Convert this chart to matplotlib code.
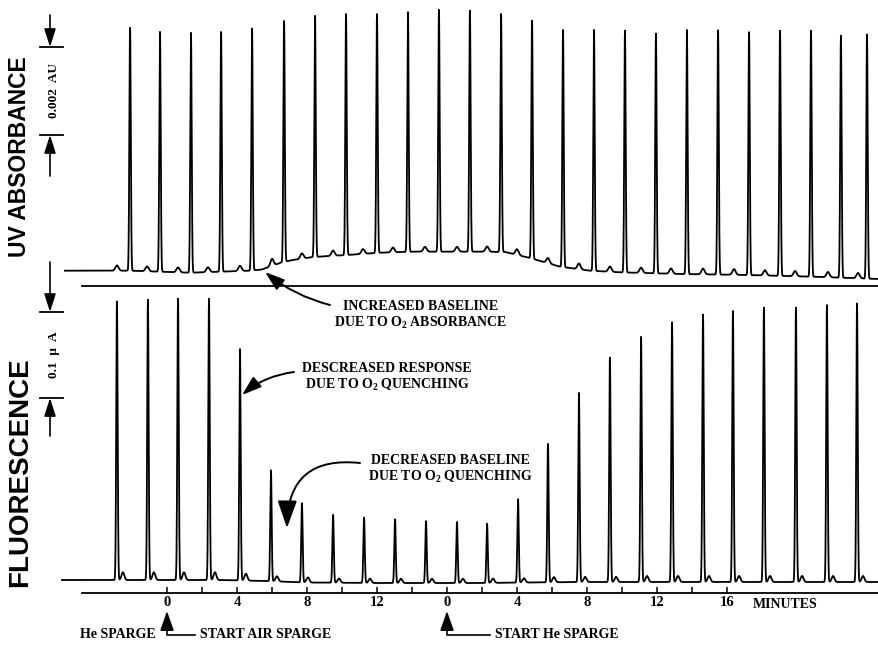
import numpy as np
import matplotlib
matplotlib.use("Agg")
import matplotlib.pyplot as plt
from matplotlib.patches import FancyArrowPatch

plt.rcParams['font.family'] = ['Liberation Serif', 'DejaVu Serif']
plt.rcParams['font.weight'] = 'bold'
plt.rcParams['mathtext.fontset'] = 'custom'
plt.rcParams['mathtext.rm'] = 'Liberation Serif:bold'
plt.rcParams['mathtext.bf'] = 'Liberation Serif:bold'
plt.rcParams['mathtext.it'] = 'Liberation Serif:bold:italic'

# ---------------- DATA (time in minutes, 0 = start of air sparge) ----------------
# UV absorbance trace (AU)
uv_peak_t = [-2.11, -0.40, 1.37, 3.09, 4.86, 6.69, 8.46, 10.23, 12.00, 13.77, 15.54, 17.31,
             19.09, 20.86, 22.63, 24.40, 26.17, 27.94, 29.71, 31.49, 33.26, 35.03, 36.80,
             38.51, 40.00]
uv_peak_h = [0.00552, 0.00545, 0.00545, 0.00545, 0.00550, 0.00548, 0.00548, 0.00548,
             0.00543, 0.00545, 0.00550, 0.00548, 0.00541, 0.00541, 0.00539, 0.00548,
             0.00550, 0.00545, 0.00555, 0.00555, 0.00552, 0.00557, 0.00559, 0.00550, 0.00555]
uv_minor_t = [-2.86, -1.14, 0.63, 2.34, 4.17, 6.00, 7.71, 9.49, 11.20, 12.91, 14.74, 16.57,
              18.29, 20.00, 21.77, 23.54, 25.31, 27.09, 28.80, 30.63, 32.40, 34.17, 35.89,
              37.77, 39.49]
uv_minor_h = [0.00012, 0.00011, 0.00011, 0.00011, 0.00012, 0.00016, 0.00012, 0.00012,
              0.00011, 0.00011, 0.00011, 0.00011, 0.00012, 0.00013, 0.00012, 0.00013,
              0.00012, 0.00012, 0.00012, 0.00013, 0.00013, 0.00012, 0.00012, 0.00012, 0.00012]
uv_base_t = [-5.83, -2.11, 1.31, 4.74, 5.43, 6.46, 7.03, 8.34, 10.29, 12.17, 14.06, 16.00,
             17.89, 19.31, 20.74, 22.46, 24.17, 25.89, 29.31, 33.14, 36.91, 40.69]
uv_base_v = [0.000348, 0.000348, 0.000302, 0.000348, 0.000375, 0.000523, 0.000580, 0.000659,
             0.000705, 0.000757, 0.000780, 0.000780, 0.000780, 0.000773, 0.000636, 0.000439,
             0.000348, 0.000311, 0.000273, 0.000250, 0.000211, 0.000159]

# Fluorescence trace (uA)
fl_peak_t = [-2.86, -1.09, 0.63, 2.40, 4.17, 5.94, 7.71, 9.49, 11.26, 13.03, 14.80, 16.57,
             18.29, 20.06, 21.77, 23.54, 25.31, 27.09, 28.86, 30.63, 32.34, 34.11, 35.94,
             37.71, 39.43]
fl_peak_h = [0.324, 0.326, 0.327, 0.327, 0.269, 0.129, 0.092, 0.079, 0.076, 0.074, 0.072,
             0.071, 0.069, 0.097, 0.161, 0.220, 0.261, 0.285, 0.302, 0.311, 0.315, 0.319,
             0.319, 0.322, 0.324]
fl_minor_t = [-2.52, -0.75, 0.97, 2.74, 4.51, 6.28, 8.05, 9.83, 11.60, 13.37, 15.14, 16.91,
              18.63, 20.40, 22.11, 23.89, 25.66, 27.43, 29.20, 30.97, 32.69, 34.46, 36.29,
              38.06, 39.77]
fl_minor_h = [0.009, 0.009, 0.009, 0.009, 0.008, 0.006, 0.006, 0.005, 0.005, 0.005, 0.005,
              0.005, 0.005, 0.005, 0.006, 0.006, 0.006, 0.007, 0.007, 0.007, 0.007, 0.007,
              0.007, 0.007, 0.007]
fl_base_t = [-6.0, 3.0, 5.5, 8.0, 12.0, 18.0, 20.5, 24.0, 30.0, 40.69]
fl_base_v = [0.0151, 0.0151, 0.0140, 0.0122, 0.0116, 0.0116, 0.0122, 0.0128, 0.0128, 0.0128]

# time axis
major_tick_t = [0, 4, 8, 12, 16, 20, 24, 28, 32]
major_tick_labels = ["0", "4", "8", "12", "0", "4", "8", "12", "16"]
minor_tick_t = [2, 6, 10, 14, 18, 22, 26, 30]

UV_SCALE = 0.002   # AU
FL_SCALE = 0.1     # uA
events = [(0.0, "START AIR SPARGE", 28), (16.0, "START He SPARGE", 43)]

# ---------------- LAYOUT ----------------
W, H = 879, 646
T0_PX, PX_PER_MIN = 167.0, 17.5
XMIN = -T0_PX / PX_PER_MIN
XMAX = (W - T0_PX) / PX_PER_MIN
AXIS_START = (82 - T0_PX) / PX_PER_MIN
UV_PER_PX = UV_SCALE / 88.0
FL_PER_PX = FL_SCALE / 86.0

fig = plt.figure(figsize=(W / 100, H / 100), dpi=100)


def rect(top, bottom):
    return [0, 1 - bottom / H, 1, (bottom - top) / H]


ax_uv = fig.add_axes(rect(0, 300))
ax_fl = fig.add_axes(rect(286, 646))
ov = fig.add_axes([0, 0, 1, 1], zorder=5)
ov.set_xlim(0, W)
ov.set_ylim(H, 0)
ov.axis('off')
ov.patch.set_alpha(0)

ax_uv.set_ylim(-14 * UV_PER_PX, 286 * UV_PER_PX)
ax_fl.set_ylim(-53 * FL_PER_PX, 307 * FL_PER_PX)
for ax in (ax_uv, ax_fl):
    ax.set_xlim(XMIN, XMAX)
    ax.patch.set_alpha(0)
    for s in ('top', 'right', 'left'):
        ax.spines[s].set_visible(False)
    ax.spines['bottom'].set_position(('data', 0))
    ax.spines['bottom'].set_bounds(AXIS_START, XMAX)
    ax.spines['bottom'].set_linewidth(1.3)
    ax.set_yticks([])
ax_uv.set_xticks([])
ax_fl.set_xticks(major_tick_t)
ax_fl.set_xticklabels(major_tick_labels)
ax_fl.set_xticks(minor_tick_t, minor=True)
ax_fl.tick_params(axis='x', which='both', direction='in', length=4.5, width=1.1,
                  pad=2.5, labelsize=10.5)


def build(t, base_t, base_v, groups):
    y = np.interp(t, base_t, base_v)
    for pts, hs, sig in groups:
        for pt, ph in zip(pts, hs):
            y = y + ph * np.exp(-0.5 * ((t - pt) / sig) ** 2)
    return y


t_uv = np.arange(uv_base_t[0], XMAX, 0.003)
y_uv = build(t_uv, uv_base_t, uv_base_v,
             [(uv_peak_t, uv_peak_h, 0.04), (uv_minor_t, uv_minor_h, 0.09)])
ax_uv.plot(t_uv, y_uv, color='black', lw=1.3, solid_joinstyle='round')

t_fl = np.arange(fl_base_t[0], XMAX, 0.003)
y_fl = build(t_fl, fl_base_t, fl_base_v,
             [(fl_peak_t, fl_peak_h, 0.04), (fl_minor_t, fl_minor_h, 0.08)])
ax_fl.plot(t_fl, y_fl, color='black', lw=1.3, solid_joinstyle='round')

inv = ov.transData.inverted()


def oy(ax, v):
    return inv.transform(ax.transData.transform((0, v)))[1]


def ox(ax, t):
    return inv.transform(ax.transData.transform((t, 0)))[0]


def arrow(p0, p1, rad=0.0, hl=10, hw=3.5, lw=1.4):
    a = FancyArrowPatch(p0, p1, arrowstyle=f'-|>,head_length={hl},head_width={hw}',
                        mutation_scale=1, connectionstyle=f'arc3,rad={rad}',
                        color='black', lw=lw, shrinkA=0, shrinkB=0,
                        transform=ov.transData)
    ov.add_patch(a)


# left titles
ov.text(20, 157, "UV ABSORBANCE", rotation=90, ha='center', va='center',
        family=['Liberation Sans', 'DejaVu Sans'], fontweight='bold', fontsize=16.5)
ov.text(20, 472, "FLUORESCENCE", rotation=90, ha='center', va='center',
        family=['Liberation Sans', 'DejaVu Sans'], fontweight='bold', fontsize=20)

# scale bars
for ax, top_v, span, up_len, dn_len, label in [
        (ax_uv, 239 * UV_PER_PX, UV_SCALE, 32, 41, "0.002  AU"),
        (ax_fl, 281 * FL_PER_PX, FL_SCALE, 50, 38, "0.1  \u00b5  A")]:
    y_top = oy(ax, top_v)
    y_bot = oy(ax, top_v - span)
    ov.plot([40, 63], [y_top, y_top], color='black', lw=1.3)
    ov.plot([40, 63], [y_bot, y_bot], color='black', lw=1.3)
    arrow((50, y_top - up_len), (50, y_top), hl=11, hw=3.5, lw=1.2)
    arrow((50, y_bot + dn_len), (50, y_bot), hl=11, hw=3.5, lw=1.2)
    ov.text(54, (y_top + y_bot) / 2, label, rotation=90, ha='center', va='center',
            fontsize=9.5)

# annotations
ov.text(421, 307, "INCREASED BASELINE", ha='center', va='center', fontsize=10)
ov.text(421, 323, "DUE TO O$_2$ ABSORBANCE", ha='center', va='center', fontsize=10)
arrow((330, 305), (265, 272), rad=-0.11, hl=12, hw=4)

ov.text(387, 369, "DESCREASED RESPONSE", ha='center', va='center', fontsize=10)
ov.text(387, 385, "DUE TO O$_2$ QUENCHING", ha='center', va='center', fontsize=10)
arrow((294, 372), (242, 395), rad=0.15, hl=12, hw=4)

ov.text(450, 461, "DECREASED BASELINE", ha='center', va='center', fontsize=10)
ov.text(450, 477, "DUE TO O$_2$ QUENCHING", ha='center', va='center', fontsize=10)
arrow((360, 463), (287, 528), rad=0.55, hl=17, hw=6)

# bottom labels
ov.text(753, 605, "MINUTES", ha='left', va='center', fontsize=10)
ov.text(80, 634, "He SPARGE", ha='left', va='center', fontsize=10)
for t_e, txt, elbow in events:
    x_e = ox(ax_fl, t_e)
    arrow((x_e, 628), (x_e, 611), hl=12, hw=4.2, lw=1.2)
    ov.plot([x_e, x_e, x_e + elbow], [626, 635, 635], color='black', lw=1.2)
    ov.text(x_e + elbow + 5, 634, txt, ha='left', va='center', fontsize=10)

fig.savefig("out.png", dpi=100)
